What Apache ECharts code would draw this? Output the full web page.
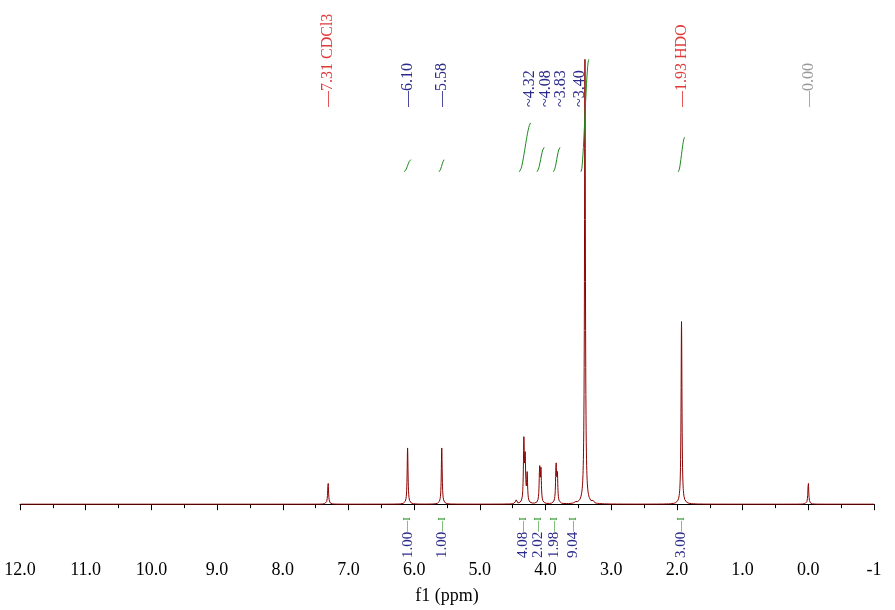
<!DOCTYPE html>
<html><head><meta charset="utf-8">
<script src="https://cdn.jsdelivr.net/npm/echarts@6/dist/echarts.min.js"></script>
<style>html,body{margin:0;padding:0;background:#fff}#c{width:895px;height:610px}</style>
</head><body><div id="c"></div>
<script>
// Peak list (ppm, intensity)
const peakPpm    = [7.31, 6.10, 5.58, 4.45, 4.33, 4.31, 4.28, 4.09, 4.07, 3.84, 3.82, 3.55, 3.40, 3.28, 1.93, 0.00];
const peakHeight = [4.7, 12.0, 12.0, 1.0, 13.0, 9.0, 6.0, 7.5, 6.8, 8.3, 5.8, 0.6, 95.0, 0.5, 39.0, 4.7];
// Shift labels
const shiftLabels = ["7.31 CDCl3", "6.10", "5.58", "4.32", "4.08", "3.83", "3.40", "1.93 HDO", "0.00"];
const shiftPpm    = [7.31, 6.10, 5.58, 4.24, 4.00, 3.77, 3.48, 1.93, 0.00];
const shiftKind   = ["solv", "n", "n", "m", "m", "m", "m", "solv", "ref"];
// Integrals: ranges (ppm) and values
const intStart = [6.15, 5.62, 4.40, 4.13, 3.88, 3.46, 1.98];
const intEnd   = [6.05, 5.54, 4.22, 4.02, 3.78, 3.34, 1.88];
const intRise  = [2.6, 2.6, 10.5, 5.2, 5.2, 24.0, 7.4];
const intLabels = ["1.00", "1.00", "4.08", "2.02", "1.98", "9.04", "3.00"];
const intLabelPpm = [6.10, 5.58, 4.34, 4.11, 3.87, 3.58, 1.93];

const w = 0.008;
const spec = [];
for (let i = 0; i <= 6500; i++) {
  const x = -1 + i * 0.002;
  let y = 0;
  for (let k = 0; k < peakPpm.length; k++) {
    const d = (x - peakPpm[k]) / w;
    y += peakHeight[k] / (1 + d * d);
  }
  spec.push([x, y]);
}
const intBase = 71;
const integrals = intStart.map((s, i) => {
  const pts = [];
  for (let j = 0; j <= 20; j++) {
    const t = j / 20;
    const x = s + (intEnd[i] - s) * t;
    const f = t * t * (3 - 2 * t);
    pts.push([x, intBase + intRise[i] * f]);
  }
  return { type: 'line', data: pts, showSymbol: false, silent: true, clip: false,
           lineStyle: { color: '#1a8a1a', width: 1 }, z: 3 };
});
const serif = '"Liberation Serif", "DejaVu Serif", serif';
const colorOf = k => k === 'solv' ? '#e03a3a' : (k === 'ref' ? '#999999' : '#2b2b8c');

const chart = echarts.init(document.getElementById('c'));
chart.setOption({
  animation: false,
  grid: { left: 20, right: 21, top: 50, bottom: 57 },
  xAxis: {
    type: 'value', inverse: true, min: -1, max: 12, interval: 1,
    name: 'f1 (ppm)', nameLocation: 'middle', nameGap: 36,
    nameTextStyle: { fontFamily: serif, fontSize: 18, color: '#000' },
    axisLine: { lineStyle: { color: '#000' } },
    axisTick: { inside: false, length: 6, lineStyle: { color: '#000' } },
    minorTick: { show: true, splitNumber: 2, length: 4, lineStyle: { color: '#000' } },
    splitLine: { show: false },
    axisLabel: { fontFamily: serif, fontSize: 18, color: '#000', margin: 10,
      formatter: v => v === -1 ? '-1' : v.toFixed(1) }
  },
  yAxis: { type: 'value', min: -10, max: 97, show: false },
  series: [
    { type: 'line', data: spec, showSymbol: false, silent: true,
      lineStyle: { color: '#8b0000', width: 1 }, z: 2 },
    ...integrals,
    { type: 'custom', silent: true, clip: false, data: shiftPpm.map((p, i) => [p, i]),
      renderItem: (params, api) => {
        const i = api.value(1);
        const pt = api.coord([api.value(0), 0]);
        const pre = shiftKind[i] === 'm' ? '~' : '—';
        return { type: 'text', x: pt[0], y: 107, rotation: Math.PI / 2,
          style: { text: pre + shiftLabels[i], fill: colorOf(shiftKind[i]),
                   font: '16px ' + serif, align: 'left', verticalAlign: 'middle' } };
      } },
    { type: 'custom', silent: true, clip: false, data: intLabelPpm.map((p, i) => [p, i]),
      renderItem: (params, api) => {
        const i = api.value(1);
        const pt = api.coord([api.value(0), 0]);
        return { type: 'text', x: pt[0], y: 558, rotation: Math.PI / 2,
          style: { text: '{b|' + intLabels[i] + '}{g|—I}', font: '15px ' + serif,
            align: 'left', verticalAlign: 'middle',
            rich: { b: { fill: '#2b2b8c', fontSize: 15, fontFamily: serif },
                    g: { fill: '#1a8a1a', fontSize: 11, fontFamily: serif } } } };
      } }
  ]
});
</script></body></html>
